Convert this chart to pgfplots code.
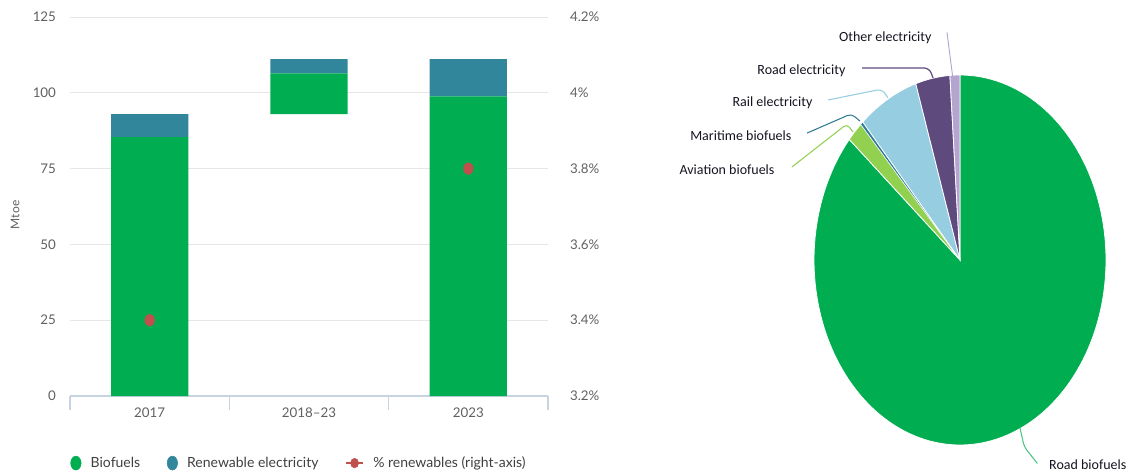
\documentclass[border=0pt]{standalone}
\usepackage{pgfplots}
\pgfplotsset{compat=1.18}
\usepackage{fontspec}
\setmainfont{Lato}
\newfontfamily\piefont{Carlito}
\definecolor{bio}{HTML}{00AD50}
\definecolor{elec}{HTML}{31869B}
\definecolor{pct}{HTML}{C0504D}
\definecolor{axiscol}{HTML}{C8D3E2}
\definecolor{gridcol}{HTML}{E6E6E6}
\definecolor{tickcol}{HTML}{606060}
\definecolor{legcol}{HTML}{404040}
\definecolor{avbio}{HTML}{92D050}
\definecolor{marbio}{HTML}{2E7D95}
\definecolor{railel}{HTML}{96CDE0}
\definecolor{roadel}{HTML}{5F4A7E}
\definecolor{othel}{HTML}{B4A5D0}
\definecolor{pietext}{HTML}{141420}
% pie shares (%), cumulative from the top, clockwise
\def\cA{0}      % start road biofuels
\def\cB{86.3}   % + aviation biofuels 1.8
\def\cC{88.1}   % + maritime biofuels 0.3
\def\cD{88.4}   % + rail electricity 6.7
\def\cE{95.1}   % + road electricity 3.8
\def\cF{98.9}   % + other electricity 1.1
\def\cG{100}
\begin{document}
\begin{tikzpicture}
\path[use as bounding box] (0,0) rectangle (850.5pt,-355.5pt);
% ---------------- bar chart (left axis)
\begin{axis}[
  at={(52.5pt,-297pt)}, anchor=south west,
  scale only axis, width=358.5pt, height=284.25pt,
  xmin=-0.5, xmax=2.5, ymin=0, ymax=125,
  ytick={0,25,50,75,100,125},
  xtick={0,1,2}, xticklabels={2017,2018--23,2023},
  minor xtick={-0.5,0.5,1.5,2.5},
  axis x line*=bottom, axis y line*=left,
  x axis line style={-, color=axiscol, line width=0.8pt},
  y axis line style={draw=none},
  tick align=outside,
  major tick length=0pt, minor tick length=10.5pt,
  minor x tick style={color=axiscol, line width=0.8pt},
  ytick style={draw=none},
  ymajorgrids, grid style={gridcol, line width=0.6pt},
  /pgf/number format/assume math mode=true,
  tick label style={font=\fontsize{10}{12}\selectfont, text=tickcol},
  yticklabel style={xshift=-7pt},
  xticklabel style={yshift=-5pt},
  ylabel={Mtoe},
  ylabel style={at={(axis description cs:-0.115,0.478)}, anchor=center, font=\fontsize{9}{11}\selectfont, text=tickcol},
  ybar stacked, bar width=0.485,
  legend columns=3,
  legend style={at={(-0.008,-0.177)}, anchor=west, draw=none, fill=none,
    font=\fontsize{10.5}{12}\selectfont, text=legcol,
    /tikz/every odd column/.append style={column sep=5pt},
    /tikz/every even column/.append style={column sep=18pt}},
]
\addplot[fill=none, draw=none, forget plot] coordinates {(0,0) (1,93.0) (2,0)};
\addplot[fill=bio, draw=none, forget plot] coordinates {(0,85.4) (1,13.4) (2,98.8)};
\addplot[fill=elec, draw=none, forget plot] coordinates {(0,7.6) (1,4.7) (2,12.3)};
\addlegendimage{legend image code/.code={\fill[bio] (3.75pt,0) ellipse[x radius=3.9pt, y radius=5.2pt];}}
\addlegendentry{Biofuels}
\addlegendimage{legend image code/.code={\fill[elec] (3.75pt,0) ellipse[x radius=3.9pt, y radius=5.2pt];}}
\addlegendentry{Renewable electricity}
\addlegendimage{legend image code/.code={\draw[pct, line width=1.6pt] (0,0) -- (12.5pt,0); \fill[pct] (6.25pt,0) ellipse[x radius=3pt, y radius=3.6pt];}}
\addlegendentry{\% renewables (right-axis)}
\end{axis}
% ---------------- right axis
\begin{axis}[
  at={(52.5pt,-297pt)}, anchor=south west,
  scale only axis, width=358.5pt, height=284.25pt,
  xmin=-0.5, xmax=2.5, ymin=3.2, ymax=4.2,
  axis y line*=right, axis x line=none,
  y axis line style={draw=none},
  ytick={3.2,3.4,3.6,3.8,4.0,4.2},
  yticklabels={3.2\%,3.4\%,3.6\%,3.8\%,4\%,4.2\%},
  ytick style={draw=none}, major tick length=0pt,
  tick label style={font=\fontsize{10}{12}\selectfont, text=tickcol},
  yticklabel style={xshift=13pt},
]
\addplot[only marks, mark=*, color=pct, mark size=3.6pt, mark options={yscale=1.25, draw=pct, fill=pct}] coordinates {(0,3.4) (2,3.8)};
\end{axis}
% ---------------- pie
\begin{axis}[
  at={(720pt,-195pt)}, anchor=center,
  scale only axis, width=219pt, height=277.5pt,
  xmin=-1, xmax=1, ymin=-1, ymax=1, hide axis, clip=false,
]
\addplot[fill=bio, draw=white, line width=0.6pt, domain={\cA*3.6}:{\cB*3.6}, samples=150] ({sin(x)},{cos(x)}) -- (0,0) -- cycle;
\addplot[fill=avbio, draw=white, line width=0.6pt, domain={\cB*3.6}:{\cC*3.6}, samples=10] ({sin(x)},{cos(x)}) -- (0,0) -- cycle;
\addplot[fill=marbio, draw=white, line width=0.3pt, domain={\cC*3.6}:{\cD*3.6}, samples=5] ({sin(x)},{cos(x)}) -- (0,0) -- cycle;
\addplot[fill=railel, draw=white, line width=0.6pt, domain={\cD*3.6}:{\cE*3.6}, samples=30] ({sin(x)},{cos(x)}) -- (0,0) -- cycle;
\addplot[fill=roadel, draw=white, line width=0.6pt, domain={\cE*3.6}:{\cF*3.6}, samples=20] ({sin(x)},{cos(x)}) -- (0,0) -- cycle;
\addplot[fill=othel, draw=white, line width=0.6pt, domain={\cF*3.6}:{\cG*3.6}, samples=8] ({sin(x)},{cos(x)}) -- (0,0) -- cycle;
% leader lines
\draw[othel, line width=0.7pt, rounded corners=3pt] (axis cs:-0.089,1.23) -- (axis cs:-0.06,1.05) -- (axis cs:-0.05,0.99);
\draw[roadel, line width=0.9pt, rounded corners=4pt] (axis cs:-0.671,1.038) -- (axis cs:-0.21,1.038) -- (axis cs:-0.185,0.984);
\draw[railel, line width=0.8pt, rounded corners=4pt] (axis cs:-0.904,0.865) -- (axis cs:-0.534,0.924) -- (axis cs:-0.493,0.876);
\draw[marbio, line width=0.8pt, rounded corners=3pt] (axis cs:-1.048,0.686) -- (axis cs:-0.745,0.79) -- (axis cs:-0.685,0.751);
\draw[avbio, line width=0.8pt, rounded corners=3pt] (axis cs:-1.151,0.503) -- (axis cs:-0.775,0.735) -- (axis cs:-0.733,0.692);
\draw[bio!70, line width=0.8pt, rounded corners=3pt] (axis cs:0.411,-0.908) -- (axis cs:0.44,-1.01) -- (axis cs:0.53,-1.1);
% labels
\begin{scope}[every node/.style={font=\piefont\fontsize{10.5}{12}\selectfont, text=pietext, inner sep=1pt}]
\node[anchor=east] at (axis cs:-0.185,1.2) {Other electricity};
\node[anchor=east] at (axis cs:-0.774,1.022) {Road electricity};
\node[anchor=east] at (axis cs:-1.0,0.849) {Rail electricity};
\node[anchor=east] at (axis cs:-1.144,0.670) {Maritime biofuels};
\node[anchor=east] at (axis cs:-1.26,0.486) {Aviation biofuels};
\node[anchor=west] at (axis cs:0.6,-1.105) {Road biofuels};
\end{scope}
\end{axis}
\end{tikzpicture}
\end{document}
